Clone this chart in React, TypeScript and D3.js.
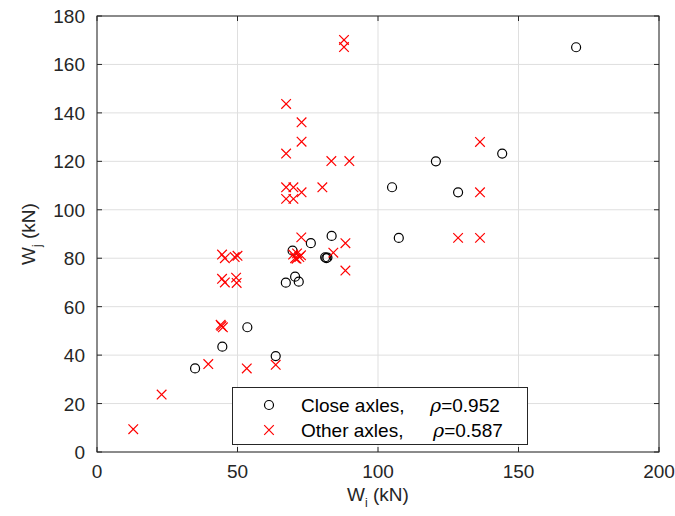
import React from 'react';
import * as d3 from 'd3';

// Close axles (black circles): [Wi, Wj]
const closeAxles: [number, number][] = [
  [170.5, 167.1], [144.2, 123.2], [120.6, 120.0], [105.0, 109.3], [128.5, 107.2],
  [107.4, 88.4], [83.5, 89.2], [76.1, 86.2], [69.6, 83.1],
  [81.2, 80.4], [81.6, 80.0], [82.0, 80.3],
  [70.5, 72.4], [71.8, 70.3], [67.2, 69.9], [53.5, 51.5], [44.6, 43.5],
  [63.6, 39.6], [34.9, 34.5],
];

// Other axles (red crosses): [Wi, Wj]
const otherAxles: [number, number][] = [
  [87.9, 170.1], [87.9, 167.2], [67.3, 143.7], [72.8, 136.1], [72.8, 128.1],
  [136.3, 128.0], [67.3, 123.2], [83.4, 120.1], [89.8, 120.1],
  [80.2, 109.3], [67.3, 109.3], [69.9, 109.3], [72.8, 107.2], [136.3, 107.2],
  [67.3, 104.5], [69.9, 104.5],
  [72.7, 88.6], [128.5, 88.4], [136.3, 88.4], [88.4, 86.2], [84.1, 82.3], [88.4, 74.9],
  [69.8, 81.5], [70.5, 80.0], [71.2, 82.0], [72.0, 80.5], [72.6, 81.2], [71.0, 79.8],
  [44.5, 81.5], [45.5, 80.0], [49.0, 80.5], [50.0, 81.0],
  [44.5, 71.5], [45.5, 70.0], [49.5, 72.0], [49.7, 69.8],
  [44.0, 52.5], [44.8, 51.5], [44.3, 52.0],
  [39.6, 36.3], [53.3, 34.5], [63.6, 36.0], [23.0, 23.7], [12.9, 9.4],
];

const xTicks = [0, 50, 100, 150, 200];
const yTicks = [0, 20, 40, 60, 80, 100, 120, 140, 160, 180];

const W = 675;
const H = 516;
const margin = { left: 97, right: 16, top: 16, bottom: 64 };
const font = '"Liberation Sans", Arial, Helvetica, sans-serif';
const axisColor = '#262626';

export default function App() {
  const x = d3.scaleLinear().domain([0, 200]).range([margin.left, W - margin.right]);
  const y = d3.scaleLinear().domain([0, 180]).range([H - margin.bottom, margin.top]);
  const [x0, x1] = x.range();
  const [y0, y1] = y.range();
  const tickLen = 5;
  const r = 4.5;
  const c = 4.8;

  const cross = (cx: number, cy: number, key: string | number) => (
    <path
      key={key}
      d={`M${cx - c},${cy - c}L${cx + c},${cy + c}M${cx - c},${cy + c}L${cx + c},${cy - c}`}
      stroke="#ff0000"
      strokeWidth={1.2}
      fill="none"
    />
  );

  const legX = 232.5;
  const legY = 387.5;

  return (
    <svg width={W} height={H} style={{ position: 'absolute', left: 0, top: 0, background: '#fff' }} fontFamily={font}>
      <rect x={0} y={0} width={W} height={H} fill="#fff" />
      {/* grid */}
      {xTicks.map(t => (
        <line key={'gx' + t} x1={x(t)} x2={x(t)} y1={y0} y2={y1} stroke="#dfdfdf" strokeWidth={1} />
      ))}
      {yTicks.map(t => (
        <line key={'gy' + t} x1={x0} x2={x1} y1={y(t)} y2={y(t)} stroke="#dfdfdf" strokeWidth={1} />
      ))}
      {/* ticks */}
      {xTicks.map(t => (
        <g key={'tx' + t} stroke={axisColor}>
          <line x1={x(t)} x2={x(t)} y1={y0} y2={y0 - tickLen} />
          <line x1={x(t)} x2={x(t)} y1={y1} y2={y1 + tickLen} />
        </g>
      ))}
      {yTicks.map(t => (
        <g key={'ty' + t} stroke={axisColor}>
          <line x1={x0} x2={x0 + tickLen} y1={y(t)} y2={y(t)} />
          <line x1={x1} x2={x1 - tickLen} y1={y(t)} y2={y(t)} />
        </g>
      ))}
      <rect x={x0} y={y1} width={x1 - x0} height={y0 - y1} fill="none" stroke={axisColor} strokeWidth={1} />
      {/* tick labels */}
      {xTicks.map(t => (
        <text key={'lx' + t} x={x(t)} y={y0 + 26} textAnchor="middle" fontSize={19} fill={axisColor}>{t}</text>
      ))}
      {yTicks.map(t => (
        <text key={'ly' + t} x={x0 - 12} y={y(t) + 7} textAnchor="end" fontSize={19} fill={axisColor}>{t}</text>
      ))}
      {/* axis labels */}
      <text x={(x0 + x1) / 2} y={H - 15} textAnchor="middle" fontSize={19} fill={axisColor}>
        W<tspan fontSize={12} dy={6}>i</tspan><tspan dy={-6}> (kN)</tspan>
      </text>
      <text transform={`translate(35,${(y0 + y1) / 2}) rotate(-90)`} textAnchor="middle" fontSize={19} fill={axisColor}>
        W<tspan fontSize={12} dy={6}>j</tspan><tspan dy={-6}> (kN)</tspan>
      </text>
      {/* data */}
      {closeAxles.map((d, i) => (
        <circle key={'c' + i} cx={x(d[0])} cy={y(d[1])} r={r} fill="none" stroke="#000" strokeWidth={1.2} />
      ))}
      {otherAxles.map((d, i) => cross(x(d[0]), y(d[1]), 'o' + i))}
      {/* legend */}
      <rect x={legX} y={legY} width={295} height={57} fill="#fff" stroke="#262626" strokeWidth={1} />
      <circle cx={269} cy={405} r={r} fill="none" stroke="#000" strokeWidth={1.2} />
      {cross(269, 430, 'leg')}
      <text x={301} y={411.5} fontSize={19} fill="#000">
        Close axles,<tspan x={430} fontStyle="italic" fontFamily='"DejaVu Serif", serif'>ρ</tspan>=0.952
      </text>
      <text x={301} y={436.5} fontSize={19} fill="#000">
        Other axles,<tspan x={433} fontStyle="italic" fontFamily='"DejaVu Serif", serif'>ρ</tspan>=0.587
      </text>
    </svg>
  );
}
